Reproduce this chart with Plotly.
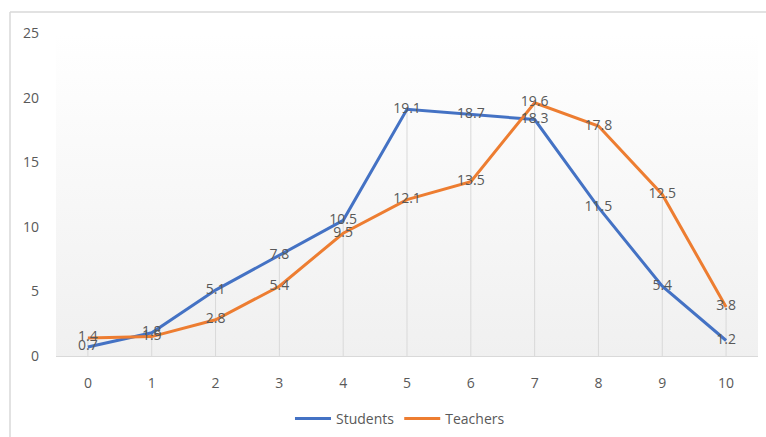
import plotly.graph_objects as go

categories = [0, 1, 2, 3, 4, 5, 6, 7, 8, 9, 10]
students = [0.7, 1.8, 5.1, 7.8, 10.5, 19.1, 18.7, 18.3, 11.5, 5.4, 1.2]
teachers = [1.4, 1.5, 2.8, 5.4, 9.5, 12.1, 13.5, 19.6, 17.8, 12.5, 3.8]
y_ticks = [0, 5, 10, 15, 20, 25]

BLUE = "#4472C4"
ORANGE = "#ED7D31"
TXT = "#595959"
GRID = "#d9d9d9"
FONT = "Open Sans"

x_lo, x_hi = categories[0] - 0.5, categories[-1] + 0.5
y_lo, y_hi = y_ticks[0], y_ticks[-1]

fig = go.Figure()

# plot-area gradient background
fig.add_trace(go.Scatter(
    x=[x_lo, x_hi, x_hi, x_lo, x_lo], y=[y_lo, y_lo, y_hi, y_hi, y_lo],
    mode="lines", line=dict(width=0), fill="toself",
    fillgradient=dict(type="vertical", colorscale=[[0, "#f0f0f0"], [1, "#ffffff"]]),
    hoverinfo="skip", showlegend=False))

# drop lines
dx, dy = [], []
for c, s, t in zip(categories, students, teachers):
    dx += [c, c, None]
    dy += [0, max(s, t), None]
fig.add_trace(go.Scatter(x=dx, y=dy, mode="lines", line=dict(color=GRID, width=1),
                         hoverinfo="skip", showlegend=False))

fig.add_trace(go.Scatter(x=categories, y=students, name="Students", mode="lines",
                         line=dict(color=BLUE, width=3)))
fig.add_trace(go.Scatter(x=categories, y=teachers, name="Teachers", mode="lines",
                         line=dict(color=ORANGE, width=3)))

for vals in (students, teachers):
    fig.add_trace(go.Scatter(x=categories, y=vals, mode="text",
                             text=[f"{v:g}" for v in vals], textposition="middle center",
                             textfont=dict(family=FONT, size=14, color=TXT),
                             hoverinfo="skip", showlegend=False))

W, H = 766, 437
ml, mr, mt, mb = 56, 8, 33, 81
pw, ph = W - ml - mr, H - mt - mb
bx = (10 - ml) / pw
by = 1 + (mt - 12) / ph

fig.update_layout(
    width=W, height=H,
    margin=dict(l=ml, r=mr, t=mt, b=mb, autoexpand=False),
    paper_bgcolor="white", plot_bgcolor="white",
    font=dict(family=FONT, size=14, color=TXT),
    xaxis=dict(range=[x_lo, x_hi], tickmode="array", tickvals=categories,
               showgrid=False, zeroline=False, showline=True, linecolor=GRID, linewidth=1,
               ticks="", ticklabelstandoff=14, fixedrange=True),
    yaxis=dict(range=[y_lo, y_hi], tickmode="array", tickvals=y_ticks,
               showgrid=False, zeroline=False, showline=False,
               ticks="", ticklabelstandoff=16, fixedrange=True),
    legend=dict(orientation="h", x=0.49, xanchor="center", y=-0.145, yanchor="top",
                font=dict(family=FONT, size=14, color=TXT), itemwidth=36,
                tracegroupgap=0),
    shapes=[
        dict(type="line", xref="paper", yref="paper", x0=bx, x1=bx, y0=-0.5, y1=by,
             line=dict(color=GRID, width=1.5)),
        dict(type="line", xref="paper", yref="paper", x0=bx, x1=1.1, y0=by, y1=by,
             line=dict(color=GRID, width=1.5)),
    ],
)

fig.write_html("out.html")
